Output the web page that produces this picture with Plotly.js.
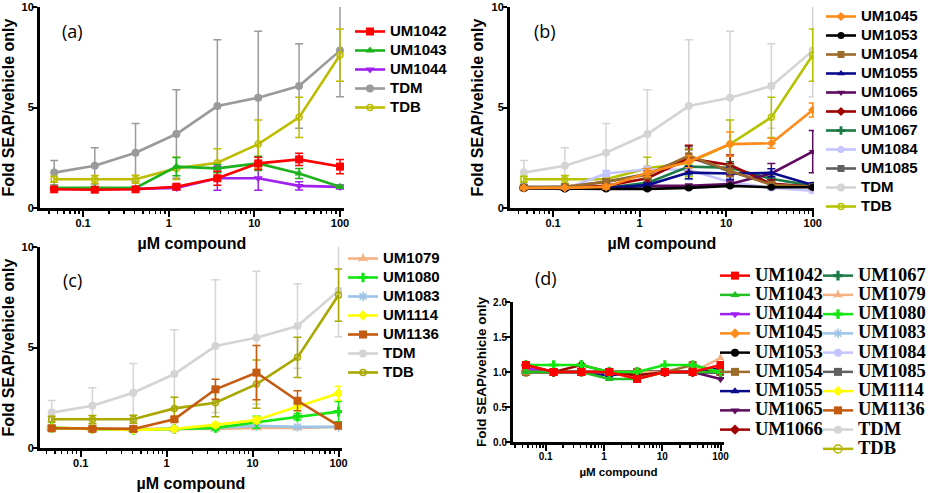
<!DOCTYPE html>
<html>
<head>
<meta charset="utf-8">
<script src="https://cdn.plot.ly/plotly-3.0.1.min.js"></script>
<style>html,body{margin:0;padding:0;background:#fff;}#chart{width:935px;height:493px;}</style>
</head>
<body>
<div id="chart"></div>
<script>
// ---------- data ----------
const conc = [0.046, 0.137, 0.41, 1.23, 3.7, 11.1, 33.3, 100];
const xTickVals = [0.1, 1, 10, 100];
const xTickText = ['0.1', '1', '10', '100'];

// reference compounds (shared in panels a-c)
const TDM_y   = [1.76, 2.10, 2.75, 3.68, 5.07, 5.49, 6.07, 7.83];
const TDM_err = [0.60, 0.90, 1.45, 2.20, 3.30, 3.30, 2.10, 2.30];
const TDB_y   = [1.43, 1.42, 1.43, 1.97, 2.25, 3.18, 4.51, 7.61];
const TDB_err = [0.15, 0.20, 0.20, 0.55, 0.70, 1.20, 1.00, 1.30];

// panel (a)
const UM1042_y   = [0.93, 0.91, 0.93, 1.06, 1.48, 2.22, 2.42, 2.06];
const UM1042_err = [0.05, 0.05, 0.05, 0.10, 0.35, 0.30, 0.30, 0.35];
const UM1043_y   = [1.01, 1.00, 1.00, 2.06, 1.97, 2.22, 1.72, 1.06];
const UM1043_err = [0.05, 0.05, 0.05, 0.45, 0.20, 0.35, 0.25, 0.05];
const UM1044_y   = [0.95, 0.95, 0.95, 1.00, 1.48, 1.48, 1.10, 1.05];
const UM1044_err = [0.05, 0.05, 0.05, 0.10, 0.60, 0.60, 0.20, 0.10];

// panel (b)
const UM1045_y   = [1.00, 1.00, 1.05, 1.76, 2.30, 3.18, 3.22, 4.88];
const UM1045_err = [0.05, 0.05, 0.10, 0.20, 0.30, 0.60, 0.25, 0.35];
const UM1053_y   = [0.98, 0.95, 0.95, 0.95, 1.00, 1.10, 1.03, 1.03];
const UM1053_err = [0.05, 0.05, 0.05, 0.05, 0.05, 0.05, 0.05, 0.05];
const UM1054_y   = [1.00, 1.05, 1.31, 1.65, 2.60, 1.85, 1.15, 1.05];
const UM1054_err = [0.10, 0.10, 0.15, 0.20, 0.30, 0.30, 0.15, 0.10];
const UM1055_y   = [1.00, 0.95, 1.00, 1.14, 1.76, 1.72, 1.75, 1.15];
const UM1055_err = [0.05, 0.05, 0.05, 0.10, 0.30, 0.30, 0.20, 0.10];
const UM1065_y   = [1.00, 1.00, 1.00, 1.10, 1.10, 1.19, 1.72, 2.80];
const UM1065_err = [0.05, 0.05, 0.05, 0.10, 0.10, 0.15, 0.50, 1.05];
const UM1066_y   = [1.00, 1.00, 1.10, 1.48, 2.47, 2.14, 1.20, 1.05];
const UM1066_err = [0.05, 0.05, 0.10, 0.20, 0.65, 0.50, 0.20, 0.10];
const UM1067_y   = [1.00, 1.00, 1.00, 1.25, 2.06, 2.00, 1.45, 1.10];
const UM1067_err = [0.05, 0.05, 0.05, 0.15, 0.40, 0.30, 0.20, 0.10];
const UM1084_y   = [1.00, 0.95, 1.72, 1.93, 1.90, 1.28, 1.00, 0.86];
const UM1084_err = [0.05, 0.05, 0.15, 0.15, 0.50, 0.20, 0.10, 0.10];
const UM1085_y   = [1.05, 1.05, 1.30, 1.70, 2.55, 1.81, 1.20, 1.05];
const UM1085_err = [0.10, 0.10, 0.15, 0.20, 0.50, 0.40, 0.20, 0.10];

// panel (c)
const UM1079_y   = [1.00, 0.95, 0.95, 0.95, 0.95, 1.00, 1.00, 1.05];
const UM1079_err = [0.05, 0.05, 0.05, 0.05, 0.05, 0.05, 0.05, 0.05];
const UM1080_y   = [1.00, 0.95, 0.90, 0.95, 1.00, 1.28, 1.56, 1.81];
const UM1080_err = [0.05, 0.05, 0.05, 0.05, 0.10, 0.30, 0.15, 0.50];
const UM1083_y   = [1.00, 0.95, 0.90, 0.95, 1.00, 1.10, 1.05, 1.05];
const UM1083_err = [0.05, 0.05, 0.05, 0.05, 0.05, 0.05, 0.05, 0.05];
const UM1114_y   = [1.00, 0.95, 0.90, 0.95, 1.15, 1.39, 2.06, 2.72];
const UM1114_err = [0.05, 0.05, 0.05, 0.05, 0.10, 0.15, 0.20, 0.35];
const UM1136_y   = [0.98, 0.95, 0.95, 1.43, 2.92, 3.75, 2.35, 1.11];
const UM1136_err = [0.10, 0.10, 0.10, 0.10, 0.50, 1.35, 0.50, 0.10];

// panel (d) – compounds alone
const d_UM1042 = [1.10, 1.00, 1.00, 1.00, 0.90, 1.00, 1.00, 1.10];
const d_UM1043 = [1.00, 1.00, 1.00, 0.90, 0.90, 1.00, 1.00, 1.00];
const d_UM1044 = [1.05, 1.00, 1.00, 1.00, 1.00, 1.00, 1.00, 1.00];
const d_UM1045 = [1.00, 1.00, 1.00, 1.00, 1.00, 1.00, 1.00, 1.05];
const d_UM1053 = [1.00, 1.00, 1.00, 1.00, 1.00, 1.00, 1.00, 1.00];
const d_UM1054 = [1.00, 1.00, 1.00, 1.00, 1.00, 1.00, 1.10, 1.00];
const d_UM1055 = [1.00, 1.00, 1.00, 0.95, 1.00, 1.00, 1.00, 1.05];
const d_UM1065 = [1.00, 1.00, 1.00, 1.00, 1.00, 1.00, 1.00, 0.90];
const d_UM1066 = [1.10, 1.00, 1.10, 1.00, 0.95, 1.00, 1.00, 1.00];
const d_UM1067 = [1.00, 1.00, 1.00, 1.00, 1.00, 1.00, 1.00, 1.00];
const d_UM1079 = [1.00, 1.00, 1.00, 1.00, 1.00, 1.00, 1.00, 1.20];
const d_UM1080 = [1.10, 1.10, 1.10, 1.00, 1.00, 1.10, 1.10, 1.00];
const d_UM1083 = [1.00, 1.00, 1.00, 1.00, 1.00, 1.00, 1.00, 1.00];
const d_UM1084 = [1.00, 1.00, 1.00, 1.00, 1.00, 1.00, 1.00, 1.00];
const d_UM1085 = [1.00, 1.00, 1.00, 1.00, 1.00, 1.00, 1.00, 1.00];
const d_UM1114 = [1.00, 1.00, 1.00, 1.00, 1.00, 1.00, 1.00, 1.00];
const d_UM1136 = [1.00, 1.00, 1.00, 1.00, 1.00, 1.00, 1.00, 1.00];
// TDM / TDB: listed in the legend of (d) but no points drawn
const d_TDM = [null, null, null, null, null, null, null, null];
const d_TDB = [null, null, null, null, null, null, null, null];

const panelLabels = ['(a)', '(b)', '(c)', '(d)'];
const xTitle = 'µM compound';
const yTitle = 'Fold SEAP/vehicle only';

// ---------- styles ----------
const C = {
  UM1042:'#ff0000', UM1043:'#1cb21c', UM1044:'#a020f0', UM1045:'#ff8c1a', UM1053:'#000000',
  UM1054:'#9c6a2a', UM1055:'#0a0a8c', UM1065:'#5e0a5e', UM1066:'#a00000', UM1067:'#1b7a46',
  UM1079:'#f4b183', UM1080:'#14e614', UM1083:'#9dc3e6', UM1084:'#c4c4ff', UM1085:'#606060',
  UM1114:'#ffff00', UM1136:'#c55a11'
};
const S = {
  UM1042:'square', UM1043:'triangle-up', UM1044:'triangle-down', UM1045:'diamond', UM1053:'circle',
  UM1054:'square', UM1055:'triangle-up', UM1065:'triangle-down', UM1066:'diamond', UM1067:'cross',
  UM1079:'star-triangle-up', UM1080:'cross', UM1083:'asterisk-open', UM1084:'circle', UM1085:'square',
  UM1114:'diamond', UM1136:'square'
};

const traces = [];
function lab(name, px) {
  return '<span style="font-size:' + px + 'px">' + name + '</span>';
}
function add(name, y, err, color, symbol, ax, legend, rank, opts) {
  opts = opts || {};
  const t = {
    type: 'scatter', mode: 'lines+markers', x: conc, y: y,
    name: opts.label || name, legend: legend, legendrank: rank,
    xaxis: 'x' + (ax === 1 ? '' : ax), yaxis: 'y' + (ax === 1 ? '' : ax),
    line: {color: color, width: opts.lw || 2.6},
    marker: {color: color, symbol: symbol, size: opts.ms || 8,
             line: {color: color, width: symbol.indexOf('open') >= 0 ? 1.5 : 0}},
    hoverinfo: 'skip'
  };
  if (err) t.error_y = {type: 'data', array: err, visible: true, color: color, thickness: 1.5, width: 4};
  traces.push(t);
}

// panel a
const la = 15;
add('TDM', TDM_y, TDM_err, '#9a9a9a', 'circle', 1, 'legend', 4, {label: lab('TDM', la)});
add('TDB', TDB_y, TDB_err, '#bdbd00', 'circle-open', 1, 'legend', 5, {label: lab('TDB', la), ms: 6});
add('UM1044', UM1044_y, UM1044_err, C.UM1044, S.UM1044, 1, 'legend', 3, {label: lab('UM1044', la)});
add('UM1043', UM1043_y, UM1043_err, C.UM1043, S.UM1043, 1, 'legend', 2, {label: lab('UM1043', la)});
add('UM1042', UM1042_y, UM1042_err, C.UM1042, S.UM1042, 1, 'legend', 1, {label: lab('UM1042', la)});

// panel b
add('TDM', TDM_y, TDM_err, '#d4d4d4', 'circle', 2, 'legend2', 10, {label: lab('TDM', la)});
add('TDB', TDB_y, TDB_err, '#b5c200', 'circle-open', 2, 'legend2', 11, {label: lab('TDB', la), ms: 6});
const bNames = ['UM1085','UM1084','UM1067','UM1066','UM1065','UM1055','UM1054','UM1053','UM1045'];
const bData = {UM1045:[UM1045_y,UM1045_err], UM1053:[UM1053_y,UM1053_err], UM1054:[UM1054_y,UM1054_err],
  UM1055:[UM1055_y,UM1055_err], UM1065:[UM1065_y,UM1065_err], UM1066:[UM1066_y,UM1066_err],
  UM1067:[UM1067_y,UM1067_err], UM1084:[UM1084_y,UM1084_err], UM1085:[UM1085_y,UM1085_err]};
bNames.forEach((n, i) => add(n, bData[n][0], bData[n][1], C[n], S[n], 2, 'legend2', 9 - i, {label: lab(n, la), ms: 7}));

// panel c
add('TDM', TDM_y, TDM_err, '#d4d4d4', 'circle', 3, 'legend3', 6, {label: lab('TDM', la)});
add('TDB', TDB_y, TDB_err, '#a8a800', 'circle-open', 3, 'legend3', 7, {label: lab('TDB', la), ms: 6});
const cNames = ['UM1079','UM1083','UM1080','UM1114','UM1136'];
const cRank = {UM1079:1, UM1080:2, UM1083:3, UM1114:4, UM1136:5};
const cData = {UM1079:[UM1079_y,UM1079_err], UM1080:[UM1080_y,UM1080_err], UM1083:[UM1083_y,UM1083_err],
  UM1114:[UM1114_y,UM1114_err], UM1136:[UM1136_y,UM1136_err]};
cNames.forEach(n => add(n, cData[n][0], cData[n][1], C[n], S[n], 3, 'legend3', cRank[n], {label: lab(n, la), ms: 8}));

// panel d
const ld = 18.5;
const dCol1 = ['UM1042','UM1043','UM1044','UM1045','UM1053','UM1054','UM1055','UM1065','UM1066'];
const dCol2 = ['UM1067','UM1079','UM1080','UM1083','UM1084','UM1085','UM1114','UM1136','TDM','TDB'];
const dData = {UM1042:d_UM1042, UM1043:d_UM1043, UM1044:d_UM1044, UM1045:d_UM1045, UM1053:d_UM1053,
  UM1054:d_UM1054, UM1055:d_UM1055, UM1065:d_UM1065, UM1066:d_UM1066, UM1067:d_UM1067,
  UM1079:d_UM1079, UM1080:d_UM1080, UM1083:d_UM1083, UM1084:d_UM1084, UM1085:d_UM1085,
  UM1114:d_UM1114, UM1136:d_UM1136, TDM:d_TDM, TDB:d_TDB};
const dColor = Object.assign({}, C, {TDM:'#d4d4d4', TDB:'#b5b500', UM1043:'#20c020'});
const dSym = Object.assign({}, S, {TDM:'circle', TDB:'circle-open'});
const dDrawOrder = ['TDB','TDM','UM1136','UM1114','UM1085','UM1084','UM1083','UM1067','UM1053','UM1045',
  'UM1044','UM1055','UM1065','UM1054','UM1079','UM1066','UM1043','UM1080','UM1042'];
dDrawOrder.forEach(n => {
  const inCol1 = dCol1.indexOf(n) >= 0;
  const rank = inCol1 ? dCol1.indexOf(n) + 1 : dCol2.indexOf(n) + 1;
  add(n, dData[n], null, dColor[n], dSym[n], 4, inCol1 ? 'legend4' : 'legend5', rank,
      {label: lab(n, ld), ms: 8, lw: 2.5});
});

// ---------- layout ----------
const W = 935, H = 493;
const px = v => v / W, py = v => 1 - v / H;
const sans = 'Liberation Sans, Arial, sans-serif';
const serif = 'Liberation Serif, Times New Roman, serif';
const tickFont = {family: sans, size: 11, color: '#000', weight: 'bold'};
function xAxis(dom, anchor, range, fs, tfs, so) {
  return {
    domain: dom, anchor: anchor, type: 'log', range: range,
    tickvals: xTickVals, ticktext: xTickText, ticks: 'outside', ticklen: 6, tickwidth: 2,
    tickcolor: '#000', showline: true, linecolor: '#000', linewidth: 3, showgrid: false,
    zeroline: false, tickfont: Object.assign({}, tickFont, {size: fs}), ticklabelstandoff: -3,
    minor: {ticks: 'outside', ticklen: 3, tickwidth: 1.5, tickcolor: '#000', dtick: 'D1', showgrid: false},
    title: {text: xTitle, font: {family: sans, size: tfs, color: '#000', weight: 'bold'}, standoff: so}
  };
}
function yAxis(dom, anchor, range, dtick, fmt, fs, tfs) {
  return {
    domain: dom, anchor: anchor, range: range, dtick: dtick, tickformat: fmt,
    ticks: 'outside', ticklen: 5, tickwidth: 2, tickcolor: '#000', ticklabelstandoff: -4,
    showline: true, linecolor: '#000', linewidth: 3, showgrid: false, zeroline: false,
    tickfont: Object.assign({}, tickFont, {size: fs}),
    title: {text: yTitle, font: {family: sans, size: tfs, color: '#000', weight: 'bold'}, standoff: 4}
  };
}
function legendAt(x, y, fs, fam) {
  return {x: x, y: y, xanchor: 'left', yanchor: 'top', bgcolor: 'rgba(0,0,0,0)', itemwidth: 30,
          traceorder: 'normal', tracegroupgap: 0,
          font: {family: fam, size: fs, color: '#000', weight: 'bold'}};
}
const ann = (t, x, y) => ({text: t, x: px(x), y: py(y), xref: 'paper', yref: 'paper', showarrow: false,
  xanchor: 'center', yanchor: 'middle', font: {family: 'Open Sans, Liberation Sans, sans-serif', size: 18, color: '#000'}});

const layout = {
  width: W, height: H, margin: {l: 0, r: 0, t: 0, b: 0}, paper_bgcolor: '#fff', plot_bgcolor: '#fff',
  showlegend: true,
  xaxis:  xAxis([px(40), px(344)], 'y', [-1.503, 2.047], 11, 16, 10),
  yaxis:  yAxis([py(208), py(7)], 'x', [0, 10], 5, '', 11, 16),
  xaxis2: xAxis([px(510), px(814)], 'y2', [-1.497, 2.015], 11, 16, 10),
  yaxis2: yAxis([py(208), py(7)], 'x2', [0, 10], 5, '', 11, 16),
  xaxis3: xAxis([px(40), px(342)], 'y3', [-1.473, 2.04], 11, 16, 10),
  yaxis3: yAxis([py(448), py(247)], 'x3', [0, 10], 5, '', 11, 16),
  xaxis4: xAxis([px(513), px(724)], 'y4', [-1.56, 2.06], 10, 11.5, 7),
  yaxis4: yAxis([py(442), py(302)], 'x4', [0, 2], 0.5, '.1f', 10, 13.5),
  legend:  legendAt(px(350), py(17), 11.5, sans),
  legend2: legendAt(px(821), py(2), 11.5, sans),
  legend3: legendAt(px(343), py(244), 11.5, sans),
  legend4: legendAt(px(715), py(261), 12.5, serif),
  legend5: legendAt(px(818), py(261), 12.5, serif),
  annotations: [ann(panelLabels[0], 72, 31), ann(panelLabels[1], 545, 31), ann(panelLabels[2], 72, 280), ann(panelLabels[3], 546, 278)]
};

Plotly.newPlot('chart', traces, layout, {displayModeBar: false, staticPlot: true});
</script>
</body>
</html>
